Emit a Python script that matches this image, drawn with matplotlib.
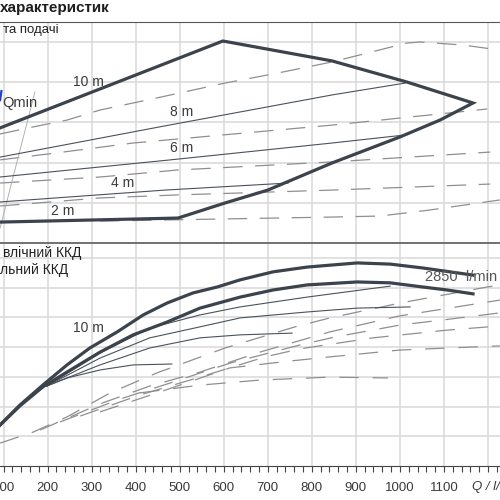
import numpy as np
import matplotlib
matplotlib.use("Agg")
import matplotlib.pyplot as plt

plt.rcParams['font.family'] = ['Liberation Sans', 'DejaVu Sans']
plt.rcParams['lines.scale_dashes'] = False

# ---- head panel (Q in l/min, H in m) ----
env_q = [92, 598, 846, 1016, 1166, 1091, 1000, 846, 700, 603, 496, 92]
env_h = [5.72, 10.04, 9.05, 8.0, 6.96, 6.11, 5.27, 3.98, 2.63, 1.99, 1.24, 1.04]

h8_q = [92, 466, 846, 1012]
h8_h = [4.27, 5.82, 7.36, 7.95]
h6_q = [92, 478, 846, 1012]
h6_h = [3.28, 4.13, 4.97, 5.37]
h4_q = [92, 466, 746]
h4_h = [2.04, 2.63, 2.98]

d1_q = [92, 167, 244, 319, 448, 603, 723, 846, 1016, 1046, 1143, 1227]
d1_h = [5.42, 5.77, 6.11, 6.61, 7.21, 7.95, 8.45, 9.0, 9.94, 9.99, 9.84, 9.59]
d2_q = [92, 217, 394, 496, 846, 1198]
d2_h = [4.13, 4.47, 4.97, 5.17, 5.86, 6.66]
d3_q = [92, 319, 496, 846, 1205]
d3_h = [2.98, 3.28, 3.63, 4.03, 4.52]
d4_q = [92, 319, 496, 846, 1205]
d4_h = [1.84, 2.24, 2.39, 2.63, 2.93]
d5_q = [319, 455, 846, 955, 1068, 1227]
d5_h = [1.09, 1.14, 1.29, 1.34, 1.64, 2.14]

qmin_q = [92, 171]
qmin_h = [0.75, 7.5]

# ---- efficiency panel (eta in %) ----
e1_q = [92, 137, 189, 244, 296, 358, 417, 471, 530, 585, 637, 712, 789, 903, 978, 1052, 1166]
e1_n = [13.8, 20.5, 27.2, 34.0, 39.7, 45.1, 50.8, 54.8, 58.2, 60.2, 62.6, 65.3, 66.9, 68.3, 67.9, 66.6, 64.2]
e2_q = [92, 137, 189, 244, 319, 394, 471, 546, 637, 712, 789, 903, 978, 1052, 1107, 1166]
e2_n = [13.8, 20.2, 26.6, 31.6, 38.3, 44.1, 48.4, 53.1, 56.8, 59.2, 60.9, 61.9, 61.6, 60.2, 59.2, 57.9]

t1_q = [198, 319, 432, 546, 637, 789, 978]
t1_n = [26.9, 38.0, 46.4, 50.8, 53.5, 56.8, 60.5]
t2_q = [198, 319, 432, 546, 637, 789, 903, 1023]
t2_n = [26.9, 36.3, 43.1, 46.8, 49.8, 51.8, 53.1, 53.5]
t3_q = [198, 319, 432, 546, 637, 755]
t3_n = [26.9, 34.0, 39.7, 43.1, 44.1, 44.7]
t4_q = [198, 244, 319, 394, 482]
t4_n = [26.9, 29.6, 32.3, 34.0, 34.3]

la_q = [92, 167, 244, 342, 448, 603, 762, 841, 1000, 1198, 1227]
la_n = [7.7, 11.4, 16.5, 24.6, 31.3, 39.7, 46.8, 49.8, 54.8, 60.2, 60.9]
lb_q = [183, 319, 432, 546, 682, 841, 1000, 1227]
lb_n = [12.1, 20.9, 26.9, 31.6, 38.3, 45.1, 50.5, 55.8]
lc_q = [228, 364, 478, 614, 773, 853, 1000, 1152, 1227]
lc_n = [14.8, 22.5, 27.9, 34.6, 40.7, 43.4, 47.4, 50.1, 51.5]
ld_q = [274, 410, 546, 694, 773, 939, 1107, 1227]
ld_n = [16.8, 23.9, 29.9, 36.7, 39.4, 43.1, 45.7, 47.1]
le_q = [319, 455, 614, 750, 841, 1000, 1227]
le_n = [18.2, 24.9, 33.0, 35.3, 36.7, 39.0, 40.4]
lf_q = [410, 546, 682, 841, 973]
lf_n = [24.6, 27.2, 28.9, 29.9, 29.6]

tick_q = list(range(100, 1300, 100))
tick_lbl = [str(v) for v in range(100, 1200, 100)] + [""]

thick = "#3b434d"
thin = "#4a525c"
dash = "#8f8f8f"
grid = "#d9d9d9"
txt = "#3a3a3a"

fig = plt.figure(figsize=(5, 5), dpi=100)
ax1 = fig.add_axes([0, 0.514, 1, 0.4426])
ax2 = fig.add_axes([0, 0.068, 1, 0.446])

for ax in (ax1, ax2):
    ax.set_xlim(91.8, 1227.3)
    ax.set_xticks(tick_q)
    ax.grid(True, color=grid, lw=1.1)
    ax.set_axisbelow(True)
    ax.spines['left'].set_visible(False)
    ax.spines['right'].set_visible(False)
    ax.tick_params(axis='y', left=False, labelleft=False)

ax1.set_ylim(0, 11)
ax1.set_yticks([2, 4, 6, 8, 10])
ax1.spines['top'].set_color("#555555")
ax1.spines['bottom'].set_visible(False)
ax1.tick_params(axis='x', bottom=False, labelbottom=False)

ax2.set_ylim(0, 75)
ax2.set_yticks([10, 20, 30, 40, 50, 60, 70])
ax2.spines['top'].set_color("#666666")
ax2.spines['top'].set_linewidth(1.3)
ax2.spines['bottom'].set_color("#444444")
ax2.set_xticklabels(tick_lbl)
ax2.set_xticks(range(100, 1240, 20), minor=True)
ax2.tick_params(axis='x', which='both', direction='out', length=4.5,
                width=0.8, color="#444444", labelsize=9.5, labelcolor=txt, pad=7)

# head curves
for q, h in [(d1_q, d1_h), (d2_q, d2_h), (d3_q, d3_h), (d4_q, d4_h), (d5_q, d5_h)]:
    ax1.plot(q, h, color=dash, lw=0.9, dashes=(14, 9))
ax1.plot(qmin_q, qmin_h, color="#b0b0b0", lw=0.7)
ax1.plot([92, 95], [7.1, 7.55], color="#2040d0", lw=1.6)
for q, h in [(h8_q, h8_h), (h6_q, h6_h), (h4_q, h4_h)]:
    ax1.plot(q, h, color=thin, lw=0.8)
ax1.plot(env_q, env_h, color=thick, lw=2.3, solid_joinstyle='miter')

ax1.text(98, 10.59, "та подачі", fontsize=9.5, color="#222222", va='center')
ax1.text(98, 6.98, "Qmin", fontsize=10.5, color=txt, va='center')
ax1.text(257, 8.0, "10 m", fontsize=10, color=txt, va='center')
ax1.text(478, 6.51, "8 m", fontsize=10, color=txt, va='center')
ax1.text(478, 4.72, "6 m", fontsize=10, color=txt, va='center')
ax1.text(344, 2.98, "4 m", fontsize=10, color=txt, va='center')
ax1.text(208, 1.59, "2 m", fontsize=10, color=txt, va='center')

# efficiency curves
for q, n in [(la_q, la_n), (lb_q, lb_n), (lc_q, lc_n), (ld_q, ld_n), (le_q, le_n), (lf_q, lf_n)]:
    ax2.plot(q, n, color=dash, lw=0.9, dashes=(14, 10))
for q, n in [(t1_q, t1_n), (t2_q, t2_n), (t3_q, t3_n), (t4_q, t4_n)]:
    ax2.plot(q, n, color=thin, lw=0.8)
ax2.plot(e1_q, e1_n, color=thick, lw=2.3, solid_joinstyle='round')
ax2.plot(e2_q, e2_n, color=thick, lw=2.3, solid_joinstyle='round')

ax2.text(98, 71.6, "влічний ККД", fontsize=10, color="#222222", va='center')
ax2.text(92, 65.9, "льний ККД", fontsize=10, color="#222222", va='center')
ax2.text(257, 46.4, "10 m", fontsize=10, color=txt, va='center')
ax2.text(1057, 63.6, "2850  l/min", fontsize=10.5, color="#555555", va='center')

fig.text(0.0, 1 - 8 / 500, "характеристик", fontsize=11, fontweight='bold',
         color="#1e1e1e", va='center', ha='left')
fig.text(472 / 500, 1 - 487 / 500, "Q / l/min", fontsize=9.5, style='italic',
         color=txt, va='center', ha='left')

fig.savefig("out.png", dpi=100)
